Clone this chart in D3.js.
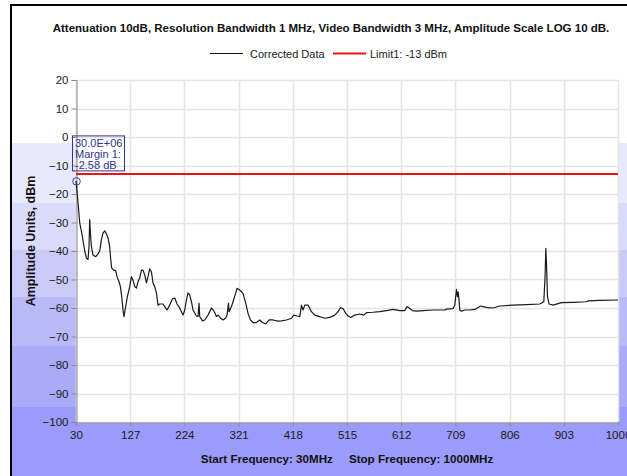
<!DOCTYPE html>
<html>
<head>
<meta charset="utf-8">
<script src="https://cdn.jsdelivr.net/npm/d3@7/dist/d3.min.js"></script>
<style>
  body { margin: 0; background: #fff; }
  svg { display: block; }
</style>
</head>
<body>
<svg id="chart" width="627" height="476"></svg>
<script>
const chartTitle = 'Attenuation 10dB, Resolution Bandwidth 1 MHz, Video Bandwidth 3 MHz, Amplitude Scale LOG 10 dB.';
const seriesNames = ['Corrected Data', 'Limit1: -13 dBm'];
const yAxisTitle = 'Amplitude Units, dBm';
const xAxisTitle = 'Start Frequency: 30MHz     Stop Frequency: 1000MHz';

// MHz
const freq = [
  30, 33.6, 36.6, 41.5, 45.6, 48.6, 51.5, 53.3, 54.5, 55.8, 57.6, 60.4, 65.3, 69.4, 72.5,
  75.5, 78.3, 81.4, 84.4, 87.3, 90.3, 92.1, 93.9, 97.5, 101.1, 103.4, 107, 109.5, 111.8,
  114.1, 115.9, 118.4, 122, 126.1, 129.2, 132, 135.1, 138.1, 141, 144, 147.1, 149.9, 153,
  156, 158.9, 161.9, 165, 167.8, 170.9, 173.9, 176.8, 179.8, 185.7, 188.8, 192.9, 197.7,
  202.6, 206.7, 210.8, 214.4, 218.7, 221.5, 224.6, 227.6, 230.5, 233.5, 236.6, 239.4,
  245.5, 248.4, 250.2, 251.4, 256.3, 260.4, 266.3, 272.4, 276.5, 281.3, 284.2, 288.5,
  293.1, 297.9, 300.3, 302.9, 303.9, 308.2, 311, 315.9, 318.2, 321.8, 326.1, 328.9, 333.8,
  337.9, 342.2, 346.8, 352.9, 358.8, 363.7, 369.6, 375.5, 382.6, 391.6, 397.7, 406.6,
  415.6, 419.7, 425.6, 430.4, 433.5, 436.3, 439.4, 445.3, 451.4, 457.3, 466.2, 475.2,
  484.1, 493.1, 499, 503.3, 507.9, 512.8, 516.9, 521.7, 528.9, 537.8, 545, 549.8, 561.6,
  573.6, 585.6, 597.4, 609.4, 618.4, 622.5, 627.3, 632.1, 639.3, 651.1, 669, 690, 693,
  704.8, 707.9, 710.9, 712.7, 713.8, 715.6, 716.8, 719.9, 725.8, 734.7, 743.7, 749.6,
  753.9, 758.5, 767.5, 776.4, 788.4, 812.2, 836.2, 860, 867.2, 869.5, 870.8, 872, 873.8,
  876.7, 883.8, 898.9, 919.6, 943.6, 946.5, 967.4, 1000
];
// dBm
const level = [
  -15.4, -23, -30, -35, -40, -42.5, -43, -38.5, -29, -33.7, -38.5, -41.4, -42, -41, -40,
  -36, -33.7, -32.9, -34, -35.4, -38.5, -43, -46, -46.7, -46.9, -49, -50.8, -52.5, -56,
  -60.7, -63, -60, -56, -52.5, -49, -50.2, -52.5, -53, -50.8, -49.5, -46.7, -46.7, -48.4,
  -51.2, -49, -46.3, -47.3, -51.2, -52.5, -54.7, -59, -58.6, -58.6, -59.5, -60.7, -59,
  -56.8, -56.5, -58.6, -59.6, -61.3, -62.5, -60.7, -57.2, -54.7, -55.4, -57.8, -60.7,
  -62.8, -63, -58.3, -63, -64.5, -64.2, -62.5, -60, -60.9, -63, -62.5, -63.5,
  -64.2, -63.5, -62.5, -58.3, -61.3, -59.5, -57.8, -54.7, -53.1, -53.5, -54.3, -54.9, -58.4,
  -61.9, -64.2, -65.1, -65.1, -64.2, -65.1, -65.6, -64.2, -64.2, -64.6, -64.5, -64.2,
  -63.6, -62.5, -62.8, -63, -59, -60.7, -59, -59, -61.3, -62.5, -63, -63.6,
  -63.3, -62.5, -61.3, -59.9, -60.2, -61.9, -62.8, -63.3, -62.5, -62.1, -62.5, -61.6, -61.5,
  -61.3, -60.9, -60.5, -60.9, -60.9, -59.5, -60.2, -60.9, -61.1, -60.9, -60.7, -60.7, -60.4,
  -60.2, -59, -53.5, -56, -54.3, -57.2, -60.7, -61.1, -60.7, -60.7, -60.5, -59.8,
  -59.3, -59.5, -59.9, -60, -59.3, -59, -58.8, -58.6, -57.8, -49, -39.1, -44.3, -56,
  -58.6, -59, -58.1, -58, -57.8, -57.5, -57.3, -57.2
];
const limitLevel = -13;

const markerFreq = 30;
const markerLevel = -15.58;
const markerLines = ['30.0E+06', 'Margin 1:', '-2.58 dB'];

const xTicks = [30, 127, 224, 321, 418, 515, 612, 709, 806, 903, 1000];
const yTicks = [20, 10, 0, -10, -20, -30, -40, -50, -60, -70, -80, -90, -100];

// background bands (stepped blue gradient)
const bandEdges = [143, 203, 250, 297, 346, 407, 476];
const bandColors = ['#e9e9fc', '#dadafb', '#cacaf9', '#babaf8', '#aaaaf8', '#9b9bfb'];

const W = 627, H = 476;
const plot = { left: 76, right: 618, top: 80, bottom: 422 };
const font = 'Liberation Sans, Arial, sans-serif';

const svg = d3.select('#chart');

// figure background
svg.append('rect').attr('width', W).attr('height', H).attr('fill', '#fff');
svg.append('g')
  .selectAll('rect')
  .data(bandColors)
  .join('rect')
  .attr('x', 12)
  .attr('y', (d, i) => bandEdges[i])
  .attr('width', W - 12)
  .attr('height', (d, i) => bandEdges[i + 1] - bandEdges[i])
  .attr('fill', d => d);

// frame lines
svg.append('rect').attr('x', 10).attr('y', 4).attr('width', W - 10).attr('height', 2).attr('fill', '#000');
svg.append('rect').attr('x', 10).attr('y', 4).attr('width', 2).attr('height', H - 4).attr('fill', '#000');

// plot area
svg.append('rect')
  .attr('x', plot.left).attr('y', plot.top)
  .attr('width', plot.right - plot.left).attr('height', plot.bottom - plot.top)
  .attr('fill', '#fff');

const x = d3.scaleLinear().domain([30, 1000]).range([plot.left, plot.right]);
const y = d3.scaleLinear().domain([-100, 20]).range([plot.bottom, plot.top]);

// grid
svg.append('g')
  .attr('stroke', '#e4e4e4')
  .attr('stroke-width', 1.5)
  .call(g => g.selectAll('.h').data(yTicks).join('line')
    .attr('x1', plot.left).attr('x2', plot.right)
    .attr('y1', d => Math.round(y(d)) + 0.5).attr('y2', d => Math.round(y(d)) + 0.5))
  .call(g => g.selectAll('.v').data(xTicks).join('line')
    .attr('y1', plot.top).attr('y2', plot.bottom)
    .attr('x1', d => Math.round(x(d)) + 0.5).attr('x2', d => Math.round(x(d)) + 0.5));

// axes
const yAxis = svg.append('g')
  .attr('transform', `translate(${plot.left + 0.5},0)`)
  .call(d3.axisLeft(y).tickValues(yTicks).tickSize(5).tickPadding(3).tickFormat(d3.format('d')));
const xAxis = svg.append('g')
  .attr('transform', `translate(0,${plot.bottom + 0.5})`)
  .call(d3.axisBottom(x).tickValues(xTicks).tickSize(4).tickPadding(4).tickFormat(d3.format('d')));

[yAxis, xAxis].forEach(a => {
  a.select('.domain').attr('stroke', '#8a8a8a');
  a.selectAll('.tick line').attr('stroke', '#8a8a8a');
  a.selectAll('.tick text')
    .attr('fill', '#1a1a1a')
    .style('font-family', font)
    .style('font-size', '11.5px');
});

// limit line
svg.append('line')
  .attr('x1', plot.left).attr('x2', plot.right)
  .attr('y1', y(limitLevel)).attr('y2', y(limitLevel))
  .attr('stroke', '#ee1111').attr('stroke-width', 2);

// data line
const pts = freq.map((f, i) => [f, level[i]]);
svg.append('path')
  .datum(pts)
  .attr('fill', 'none')
  .attr('stroke', '#1a1a1a')
  .attr('stroke-width', 1.2)
  .attr('stroke-linejoin', 'round')
  .attr('d', d3.line().x(d => x(d[0])).y(d => y(d[1])));

// margin marker
const mx = x(markerFreq), my = y(markerLevel);
svg.append('circle')
  .attr('cx', mx + 0.5).attr('cy', my)
  .attr('r', 3.8)
  .attr('fill', 'none')
  .attr('stroke', '#3a3a9a')
  .attr('stroke-width', 1);
svg.append('rect')
  .attr('x', mx - 3.5).attr('y', my - 45.5)
  .attr('width', 52).attr('height', 35)
  .attr('fill', 'none')
  .attr('stroke', '#33338f')
  .attr('stroke-width', 1);
svg.append('g')
  .selectAll('text')
  .data(markerLines)
  .join('text')
  .attr('x', mx - 1)
  .attr('y', (d, i) => my - 34 + i * 11)
  .attr('fill', '#33338f')
  .style('font-family', font)
  .style('font-size', '11px')
  .text(d => d);

// title
svg.append('text')
  .attr('x', 331).attr('y', 32)
  .attr('text-anchor', 'middle')
  .attr('fill', '#111')
  .style('font-family', font)
  .style('font-weight', 'bold')
  .style('font-size', '11.5px')
  .text(chartTitle);

// legend
const legend = svg.append('g')
  .style('font-family', font)
  .style('font-size', '11px');
const legendItems = [
  { name: seriesNames[0], color: '#111', width: 1, x0: 210, tx: 250 },
  { name: seriesNames[1], color: '#ee1111', width: 2, x0: 333, tx: 370 }
];
legendItems.forEach(it => {
  legend.append('line')
    .attr('x1', it.x0).attr('x2', it.x0 + 33)
    .attr('y1', 53.5).attr('y2', 53.5)
    .attr('stroke', it.color).attr('stroke-width', it.width);
  legend.append('text')
    .attr('x', it.tx).attr('y', 57.5)
    .attr('fill', '#222')
    .text(it.name);
});

// axis titles
svg.append('text')
  .attr('transform', 'translate(35,241) rotate(-90)')
  .attr('text-anchor', 'middle')
  .attr('fill', '#111')
  .style('font-family', font)
  .style('font-weight', 'bold')
  .style('font-size', '12.5px')
  .text(yAxisTitle);

svg.append('text')
  .attr('x', 347).attr('y', 463)
  .attr('text-anchor', 'middle')
  .attr('fill', '#111')
  .attr('xml:space', 'preserve')
  .style('white-space', 'pre')
  .style('font-family', font)
  .style('font-weight', 'bold')
  .style('font-size', '11.6px')
  .text(xAxisTitle);
</script>
</body>
</html>
